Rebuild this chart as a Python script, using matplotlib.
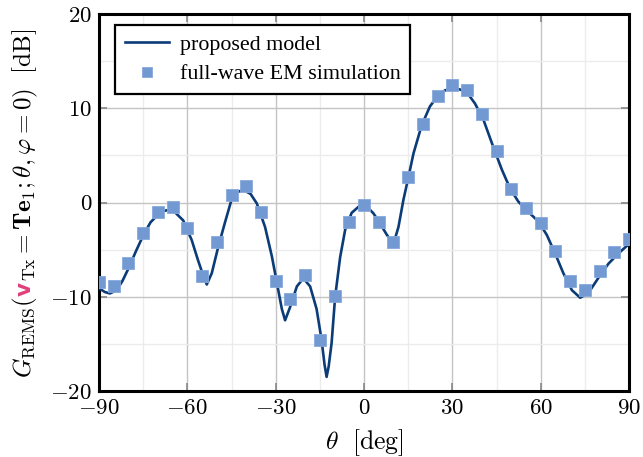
#!/usr/bin/env python3

import numpy as np
import matplotlib
matplotlib.use("Agg")
import matplotlib.pyplot as plt
from matplotlib.ticker import MultipleLocator, FuncFormatter

plt.rcParams["mathtext.fontset"] = "cm"
plt.rcParams["font.family"] = "serif"
plt.rcParams["font.serif"] = ["Liberation Serif", "DejaVu Serif"]

# full-wave EM simulation (every 5 deg)
theta_sim = [-90, -85, -80, -75, -70, -65, -60, -55, -50, -45, -40, -35, -30,
             -25, -20, -15, -10, -5, 0, 5, 10, 15, 20, 25, 30, 35, 40, 45,
             50, 55, 60, 65, 70, 75, 80, 85, 90]
gain_sim = [-8.45, -8.9, -6.45, -3.2, -0.97, -0.5, -2.7, -7.8, -4.2, 0.83,
            1.7, -1.05, -8.3, -10.2, -7.7, -14.6, -9.95, -2.05, -0.3, -2.1,
            -4.2, 2.74, 8.3, 11.3, 12.5, 11.9, 9.35, 5.5, 1.4, -0.62, -2.14,
            -5.15, -8.33, -9.28, -7.27, -5.2, -3.9]

# proposed model
theta_model = [-90, -88, -86.3, -84, -82, -80, -77.5, -75, -72.5, -70, -68,
               -66.5, -64, -61.4, -58.5, -56.5, -55.1, -53.4, -51.7, -49.5,
               -47.2, -44.9, -43, -41, -38.5, -36.4, -33.6, -31.3, -29.6,
               -27.9, -26.8, -25.1, -22.8, -20.6, -18.3, -16.1, -14.4, -13.4,
               -12.7, -12.0, -11.0, -9.8, -8.1, -6.4, -4.2, -1.3, 0.4, 3.2,
               5.4, 7.7, 10, 11.7, 13.4, 15.1, 16.8, 19.6, 22.4, 25.3, 27.5,
               29.8, 32.5, 34.9, 37.7, 40.6, 43.9, 46.8, 49.6, 52.4, 55.8,
               59.2, 62.1, 64.9, 67.7, 70.6, 73.4, 76.2, 79.6, 83.0, 86.4, 90]
gain_model = [-9.1, -9.5, -9.65, -9.3, -8.3, -7.0, -5.2, -3.5, -2.1, -1.3,
              -0.9, -0.8, -1.1, -1.9, -4.0, -6.0, -7.3, -8.7, -7.5, -4.7,
              -2.1, 0.4, 1.1, 1.35, 0.9, -0.1, -2.6, -5.7, -8.5, -11.3, -12.5,
              -11.1, -8.9, -8.05, -8.9, -11.3, -14.6, -17.2, -18.5, -17.4,
              -14.9, -10.0, -5.8, -2.9, -1.1, -0.3, -0.25, -1.15, -2.2, -3.4,
              -4.4, -2.6, 0.3, 2.7, 5.2, 8.2, 10.2, 11.4, 11.9, 12.1, 12.0,
              11.7, 10.5, 8.75, 5.9, 3.5, 1.5, 0.1, -1.0, -2.0, -3.45, -5.4,
              -7.5, -9.3, -10.1, -9.6, -8.0, -6.5, -5.4, -4.4]

line_color = "#0b3c78"
marker_color = "#7299d2"

fig = plt.figure(figsize=(6.43, 4.57), dpi=100)
ax = fig.add_axes([99 / 643, 1 - 391 / 457, 530 / 643, 377 / 457])

ax.plot(theta_model, gain_model, color=line_color, lw=1.9, zorder=3,
        label="proposed model")
ax.plot(theta_sim, gain_sim, ls="none", marker="s", ms=8,
        color=marker_color, mec="#86a9dc", mew=0.6, zorder=4,
        label="full-wave EM simulation")

ax.set_xlim(-90, 90)
ax.set_ylim(-20, 20)
ax.xaxis.set_major_locator(MultipleLocator(30))
ax.xaxis.set_minor_locator(MultipleLocator(15))
ax.yaxis.set_major_locator(MultipleLocator(10))
ax.yaxis.set_minor_locator(MultipleLocator(5))
fmt = FuncFormatter(lambda v, p: "$%d$" % v)
ax.xaxis.set_major_formatter(fmt)
ax.yaxis.set_major_formatter(fmt)
ax.tick_params(which="major", direction="in", length=6, width=1.2,
               color="#888888", top=True, right=True, labelsize=16.5, pad=5)
ax.tick_params(which="minor", length=0)
ax.grid(which="major", color="#c4c4c4", lw=1.0)
ax.grid(which="minor", color="#ececec", lw=1.0)
ax.set_axisbelow(True)
for s in ax.spines.values():
    s.set_linewidth(2.2)

ax.set_xlabel(r"$\theta\ \ [\mathrm{deg}]$", fontsize=18.5, labelpad=6)

# y label built in pieces so the v can be coloured
p1 = ax.annotate(r"$G_{\mathrm{REMS}}($", xy=(31 / 643, 1 - 378 / 457),
                 xycoords="figure fraction", rotation=90,
                 rotation_mode="anchor", ha="left", va="baseline",
                 fontsize=18, annotation_clip=False)
p2 = ax.annotate("v", xy=(31 / 643, 1.0), xycoords=("figure fraction", p1),
                 rotation=90, rotation_mode="anchor", ha="left",
                 va="baseline", fontsize=15.5, fontweight="bold",
                 family="DejaVu Sans", color="#e0407a", annotation_clip=False)
p3 = ax.annotate(r"${}_{\mathrm{Tx}} = \mathbf{Te}_1; \theta, \varphi = 0)\ \ [\mathrm{dB}]$",
                 xy=(31 / 643, 1.0), xycoords=("figure fraction", p2),
                 rotation=90, rotation_mode="anchor", ha="left",
                 va="baseline", fontsize=18, annotation_clip=False)

leg = ax.legend(loc="upper left", bbox_to_anchor=(0.030, 0.971),
                borderaxespad=0, fancybox=False, framealpha=1,
                edgecolor="black", fontsize=15.8, handlelength=2.0,
                handletextpad=0.5, borderpad=0.45, labelspacing=0.4,
                markerscale=0.85)
leg.get_frame().set_linewidth(1.6)

fig.savefig("out.png", dpi=100)
